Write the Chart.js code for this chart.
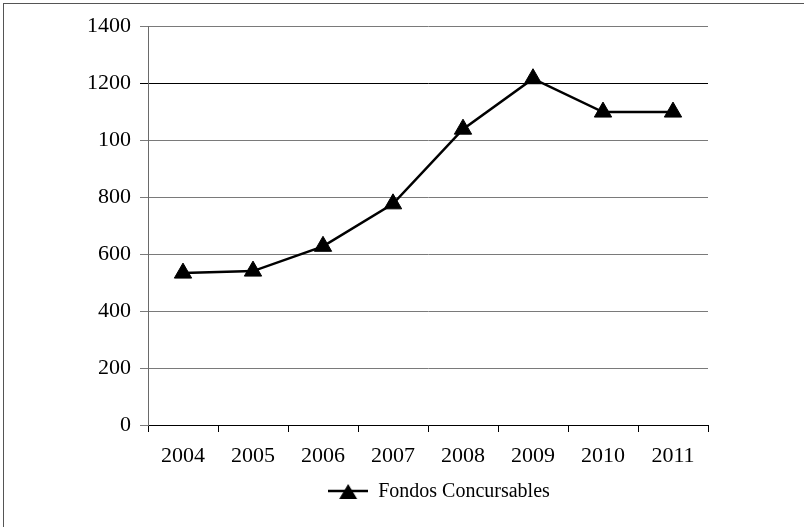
<!DOCTYPE html>
<html>
<head>
<meta charset="utf-8">
<title>Fondos Concursables 2004-2011</title>
<script src="https://cdn.jsdelivr.net/npm/chart.js@4/dist/chart.umd.min.js"></script>
<style>
  html, body { margin: 0; padding: 0; background: #fff; }
  #wrap { position: relative; width: 804px; height: 527px; overflow: hidden; }
  #frame { position: absolute; left: 3px; top: 3px; width: 820px; height: 540px;
           border-left: 1px solid #555; border-top: 1px solid #555; }
  canvas { position: absolute; left: 0; top: 0; }
</style>
</head>
<body>
<div id="wrap">
  <div id="frame"></div>
  <canvas id="chart" width="804" height="527"></canvas>
</div>
<script>
// Years on the horizontal axis
const years = ['2004', '2005', '2006', '2007', '2008', '2009', '2010', '2011'];
// Fondos Concursables per year
const fondos = [533, 540, 627, 776, 1038, 1215, 1098, 1098];
// Vertical axis labels, as printed (the 1000 line reads "100")
const yTickLabels = ['0', '200', '400', '600', '800', '100', '1200', '1400'];
const seriesName = 'Fondos Concursables';

const FONT = "'Liberation Serif', 'DejaVu Serif', serif";

// Legend symbol: a short line with a triangle on it
function legendIcon() {
  const c = document.createElement('canvas');
  c.width = 40; c.height = 20;
  const g = c.getContext('2d');
  g.strokeStyle = '#000';
  g.lineWidth = 2.5;
  g.beginPath(); g.moveTo(0, 9); g.lineTo(40, 9); g.stroke();
  g.fillStyle = '#000';
  g.beginPath(); g.moveTo(20, 2); g.lineTo(29, 17); g.lineTo(11, 17); g.closePath(); g.fill();
  return c;
}

// Nudge the legend row a little to the right of the plot centre
const legendShift = {
  id: 'legendShift',
  afterLayout(chart) {
    if (chart.legend) { chart.legend.left += 22; }
  }
};

new Chart(document.getElementById('chart'), {
  type: 'line',
  data: {
    labels: years,
    datasets: [{
      label: seriesName,
      data: fondos,
      borderColor: '#000',
      backgroundColor: '#000',
      borderWidth: 2.5,
      tension: 0,
      pointStyle: 'triangle',
      pointRadius: 10,
      pointHoverRadius: 10,
      pointBackgroundColor: '#000',
      pointBorderColor: '#000',
      pointBorderWidth: 1
    }]
  },
  plugins: [legendShift],
  options: {
    responsive: false,
    animation: false,
    events: [],
    layout: { padding: { left: 0, top: 26, right: 96, bottom: 15 } },
    plugins: {
      tooltip: { enabled: false },
      legend: {
        position: 'bottom',
        fullSize: false,
        labels: {
          usePointStyle: true,
          pointStyle: legendIcon(),
          pointStyleWidth: 40,
          color: '#000',
          padding: 10,
          font: { family: FONT, size: 20 }
        }
      }
    },
    scales: {
      x: {
        type: 'category',
        offset: true,
        afterFit: (s) => { s.height = 47; },
        grid: { offset: true, drawOnChartArea: false, drawTicks: true, tickLength: 7, color: '#000', lineWidth: 1 },
        border: { color: '#000', width: 1 },
        ticks: { color: '#000', padding: 11, maxRotation: 0, font: { family: FONT, size: 22 } }
      },
      y: {
        min: 0,
        max: 1400,
        afterFit: (s) => { s.width = 148; },
        grid: {
          drawTicks: true,
          tickLength: 8,
          lineWidth: 1,
          color: (ctx) => (ctx.tick && ctx.tick.value === 1200) ? '#000' : '#7a7a7a'
        },
        border: { color: '#6a6a6a', width: 1 },
        ticks: {
          stepSize: 200,
          color: '#000',
          padding: 9,
          font: { family: FONT, size: 22 },
          callback: (value, index) => yTickLabels[index]
        }
      }
    }
  }
});
</script>
</body>
</html>
